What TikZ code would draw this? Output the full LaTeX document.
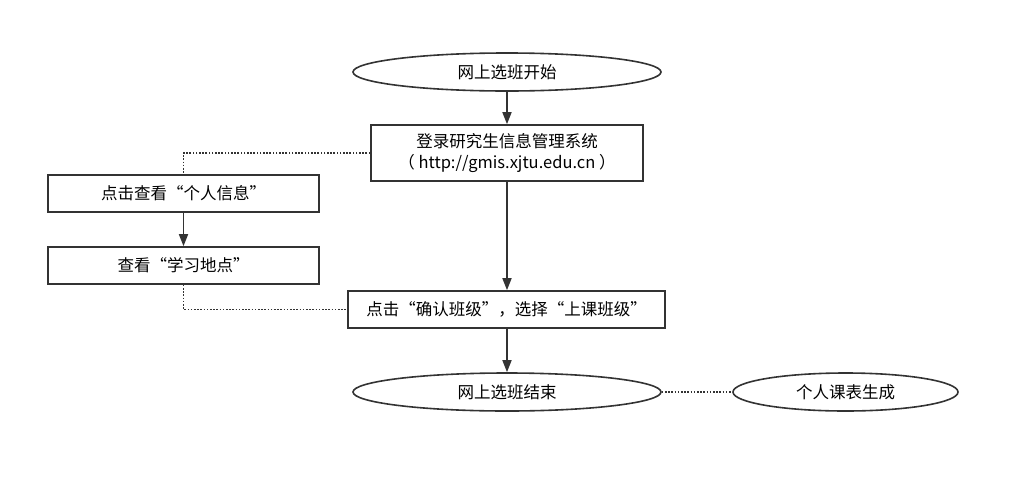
\documentclass[tikz,border=0pt]{standalone}
\usepackage{fontspec}
\setmainfont{Noto Sans CJK SC}
\usetikzlibrary{shapes.geometric,arrows.meta}
\definecolor{linegray}{HTML}{333333}
\tikzset{
  stepbox/.style={draw=linegray, line width=1.6pt, rectangle, inner sep=0pt, align=center, font=\fontsize{16.5}{21}\selectfont},
  terminal/.style={draw=linegray, line width=1.6pt, ellipse, inner sep=0pt, font=\fontsize{16.5}{21}\selectfont},
  flow/.style={draw=linegray, line width=1.6pt, -{Triangle[length=12pt,width=9pt]}},
  link/.style={draw=linegray, line width=1.7pt, dash pattern=on 1.6pt off 1.6pt}
}
\begin{document}
\begin{tikzpicture}[x=1pt, y=-1pt]
  \useasboundingbox (0,0) rectangle (1020,477);
  % terminals
  \node[terminal, minimum width=308pt, minimum height=38pt] (start) at (507,72) {网上选班开始};
  \node[terminal, minimum width=308pt, minimum height=38pt] (finish) at (507,392) {网上选班结束};
  \node[terminal, minimum width=225pt, minimum height=38pt] (table) at (845.5,392) {个人课表生成};
  % steps
  \node[stepbox, minimum width=272pt, minimum height=56pt] (login) at (507,153) {登录研究生信息管理系统\\（ http://gmis.xjtu.edu.cn ）};
  \node[stepbox, minimum width=271pt, minimum height=37pt] (info) at (183.5,193.5) {点击查看“个人信息”};
  \node[stepbox, minimum width=271pt, minimum height=37pt] (place) at (183.5,265.5) {查看“学习地点”};
  \node[stepbox, minimum width=317pt, minimum height=37pt] (confirm) at (506.5,309.5) {点击“确认班级”，选择“上课班级”};
  % connectors
  \draw[flow] (start) -- (login);
  \draw[flow] (login.south) -- (login.south |- confirm.north);
  \draw[flow] (confirm.south -| finish.north) -- (finish);
  \draw[flow] (info) -- (place);
  \draw[link] (login.west) -| (info.north);
  \draw[link] (place.south) |- (confirm.west);
  \draw[link] (finish.east) -- (table.west);
\end{tikzpicture}
\end{document}
